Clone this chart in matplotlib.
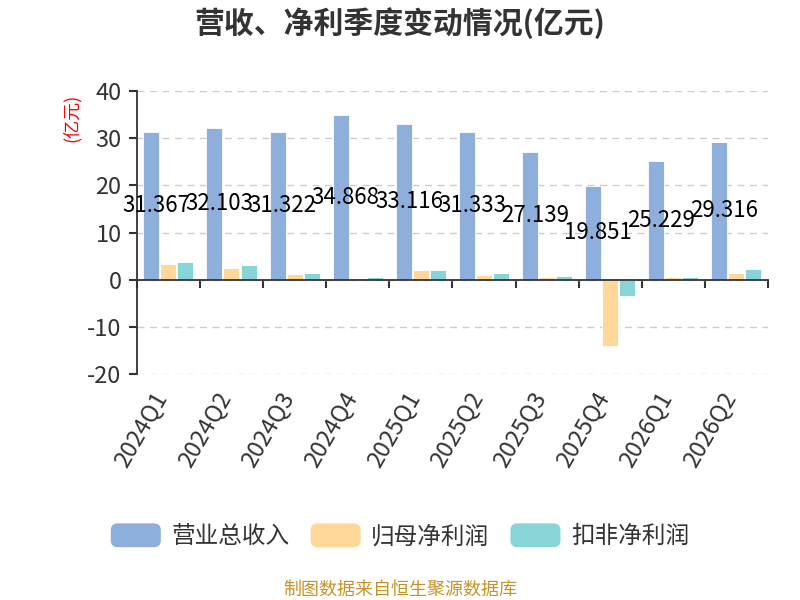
import matplotlib
matplotlib.use('Agg')
import matplotlib.pyplot as plt
import numpy as np
from matplotlib.patches import FancyBboxPatch, Patch
from matplotlib.legend_handler import HandlerPatch

plt.rcParams['font.family'] = ['Noto Sans CJK SC', 'DejaVu Sans']
plt.rcParams['axes.unicode_minus'] = False

quarters = ['2024Q1', '2024Q2', '2024Q3', '2024Q4', '2025Q1',
            '2025Q2', '2025Q3', '2025Q4', '2026Q1', '2026Q2']
revenue = [31.367, 32.103, 31.322, 34.868, 33.116, 31.333, 27.139, 19.851, 25.229, 29.316]
net_profit = [3.4, 2.5, 1.2, 0.35, 2.05, 1.05, 0.65, -14.2, 0.55, 1.3]
deducted_profit = [3.7, 3.0, 1.35, 0.65, 2.1, 1.4, 0.8, -3.5, 0.6, 2.3]

series_names = ['营业总收入', '归母净利润', '扣非净利润']
colors = ['#8eaedb', '#ffd899', '#88d5d8']


class RoundBoxHandler(HandlerPatch):
    def create_artists(self, legend, orig_handle, xdescent, ydescent,
                       width, height, fontsize, trans):
        p = FancyBboxPatch((-xdescent, -ydescent), width, height,
                           boxstyle='round,pad=0,rounding_size=5',
                           facecolor=orig_handle.get_facecolor(),
                           edgecolor='none', transform=trans)
        return [p]


fig = plt.figure(figsize=(8, 6), dpi=100)
ax = fig.add_axes([0.171, 0.377, 0.789, 0.471])

x = np.arange(len(quarters))
w = 0.254
step = 0.27
for i, vals in enumerate([revenue, net_profit, deducted_profit]):
    ax.bar(x + (i - 1) * step, vals, width=w, color=colors[i],
           edgecolor='white', linewidth=0.6, zorder=3)

for xi, v in zip(x, revenue):
    ax.text(xi - step + 0.08, v / 2, f'{v:.3f}', ha='center', va='center',
            fontsize=16, color='black', zorder=5)

ax.set_xlim(-0.5, len(quarters) - 0.5)
ax.set_ylim(-20, 40)
ax.set_yticks([-20, -10, 0, 10, 20, 30, 40])
ax.yaxis.grid(True, linestyle=(0, (5, 4)), color='#cccccc', linewidth=1, zorder=0)

for s in ['top', 'right']:
    ax.spines[s].set_visible(False)
ax.spines['bottom'].set_position(('data', 0))
ax.spines['bottom'].set_color('#333333')
ax.spines['bottom'].set_linewidth(1.3)
ax.spines['bottom'].set_zorder(4)
ax.spines['left'].set_color('#333333')
ax.spines['left'].set_linewidth(1.3)

# category boundary ticks on the zero line
ax.set_xticks(np.arange(-0.5, len(quarters) + 0.5, 1))
ax.set_xticklabels([])
ax.tick_params(axis='x', direction='out', length=6, width=1.5, color='#333333')
ax.tick_params(axis='y', direction='out', length=6, width=1.5, color='#333333',
               labelsize=17, labelcolor='#333333', pad=5)

for xi, q in zip(x, quarters):
    ax.text(xi - 0.1, -24.2, q, rotation=60, ha='right', va='center',
            rotation_mode='anchor', fontsize=17, color='#333333')

fig.text(0.09, 0.803, '(亿元)', rotation=90, ha='center', va='center',
         fontsize=13, color='red')

fig.text(0.5, 0.962, '营收、净利季度变动情况(亿元)', ha='center', va='center',
         fontsize=21.5, fontweight='bold', color='#333333')

handles = [Patch(facecolor=c) for c in colors]
fig.legend(handles, series_names, loc='center', bbox_to_anchor=(0.5, 0.107),
           ncol=3, frameon=False, fontsize=17, labelcolor='#333333',
           handlelength=2.12, handleheight=1.18, handletextpad=0.45,
           columnspacing=0.89, handler_map={Patch: RoundBoxHandler()})

fig.text(0.5, 0.017, '制图数据来自恒生聚源数据库', ha='center', va='center',
         fontsize=13, color='#c8922a')

fig.savefig('out.png', dpi=100)
